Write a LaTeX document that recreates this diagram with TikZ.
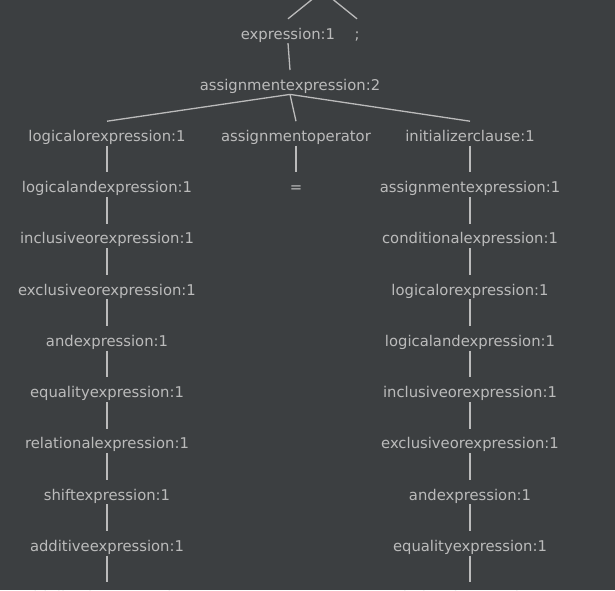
\documentclass[tikz,border=0pt]{standalone}
\usepackage{fontspec}
\setmainfont{DejaVu Sans}
\definecolor{bgdark}{HTML}{3C3F41}
\definecolor{treefg}{HTML}{BBBBBB}

\begin{document}
\begin{tikzpicture}[x=1pt,y=-1pt,
  lbl/.style={text=treefg,font=\fontsize{14.8}{17}\selectfont,inner sep=0pt,
    text height=20pt,text depth=4pt,anchor=base},
  edge/.style={draw=treefg,line width=1.3pt}]
	\fill[bgdark] (0,0) rectangle (615,590);
	\useasboundingbox (0,0) rectangle (615,590);

	% top of the tree (parent is off the page)
	\coordinate (root) at (322.5,-9);
	\node[lbl] (expr) at (288,39) {expression:1};
	\node[lbl] (semi) at (357,39) {;};
	\draw[edge] (root) -- (expr.north);
	\draw[edge] (root) -- (semi.north);

	\node[lbl] (asgn) at (290,90.2) {assignmentexpression:2};
	\draw[edge] (expr.south) -- (asgn.north);

	% middle branch
	\node[lbl] (op) at (296,141.4) {assignmentoperator};
	\node[lbl] (eq) at (296,192.6) {=};
	\draw[edge] (op.south) -- (eq.north);

	% left chain
	\foreach \txt [count=\k] in {logicalorexpression:1,logicalandexpression:1,
		inclusiveorexpression:1,exclusiveorexpression:1,andexpression:1,
		equalityexpression:1,relationalexpression:1,shiftexpression:1,
		additiveexpression:1,multiplicativeexpression:1}
		\node[lbl] (l\k) at (107,{141.4+51.25*(\k-1)}) {\txt};

	% right chain
	\foreach \txt [count=\k] in {initializerclause:1,assignmentexpression:1,
		conditionalexpression:1,logicalorexpression:1,logicalandexpression:1,
		inclusiveorexpression:1,exclusiveorexpression:1,andexpression:1,
		equalityexpression:1,relationalexpression:1}
		\node[lbl] (r\k) at (470,{141.4+51.25*(\k-1)}) {\txt};

	\foreach \k [count=\j from 2] in {1,...,9} {
		\draw[edge] (l\k.south) -- (l\j.north);
		\draw[edge] (r\k.south) -- (r\j.north);
	}

	\draw[edge] (asgn.south) -- (l1.north);
	\draw[edge] (asgn.south) -- (op.north);
	\draw[edge] (asgn.south) -- (r1.north);
\end{tikzpicture}
\end{document}
